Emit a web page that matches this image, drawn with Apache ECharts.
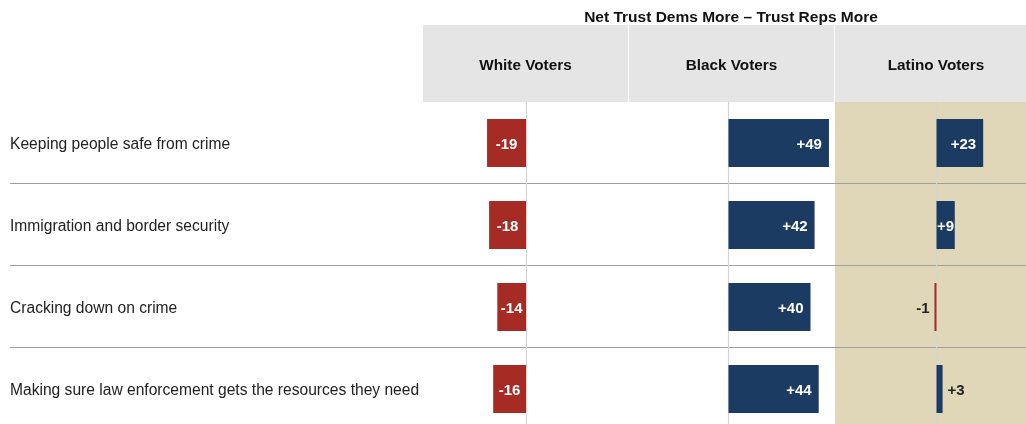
<!DOCTYPE html>
<html><head><meta charset="utf-8">
<script src="https://cdn.jsdelivr.net/npm/echarts@6/dist/echarts.min.js"></script>
<style>html,body{margin:0;padding:0;background:#fff}#c{width:1026px;height:424px}</style>
</head><body><div id="c"></div>
<script>
const categories = [
  'Keeping people safe from crime',
  'Immigration and border security',
  'Cracking down on crime',
  'Making sure law enforcement gets the resources they need'
];
const groups = ['White Voters', 'Black Voters', 'Latino Voters'];
const whiteValues = [-19, -18, -14, -16];
const blackValues = [49, 42, 40, 44];
const latinoValues = [23, 9, -1, 3];
const chartTitle = 'Net Trust Dems More \u2013 Trust Reps More';

const RED = '#a62b24', NAVY = '#1b3b63', BEIGE = '#e0d7b9', HEAD = '#e5e5e5';
const FONT = 'Liberation Sans, Arial, sans-serif';

function labelFor(v) {
  const base = { show: true, fontFamily: FONT, fontSize: 15, fontWeight: 'bold',
    formatter: (v > 0 ? '+' : '') + v, offset: [0, 2] };
  if (v >= 20) return Object.assign(base, { position: 'insideRight', distance: 7, color: '#fff' });
  if (Math.abs(v) >= 5) return Object.assign(base, { position: 'inside', color: '#fff' });
  return Object.assign(base, { position: v < 0 ? 'left' : 'right', distance: 5, color: '#222' });
}
function seriesData(vals) {
  return vals.map(v => ({ value: v, itemStyle: { color: v < 0 ? RED : NAVY }, label: labelFor(v) }));
}

const panels = [
  { left: 423.5, width: 205, vals: whiteValues, bg: 'transparent', head: [423, 205] },
  { left: 626, width: 205, vals: blackValues, bg: 'transparent', head: [629, 205] },
  { left: 835, width: 203, vals: latinoValues, bg: BEIGE, head: [835, 205] }
];

const grid = [{ left: 10, right: 0, top: 101, height: 328, show: false, outerBoundsMode: 'none', containLabel: false }];
const xAxis = [{ gridIndex: 0, type: 'value', show: false, min: 0, max: 1 }];
const yAxis = [{
  gridIndex: 0, type: 'category', data: categories, inverse: true, z: 3,
  axisLine: { show: false }, axisTick: { show: false },
  axisLabel: { inside: true, margin: 0, color: '#222', fontSize: 15.6, fontFamily: FONT,
    formatter: v => '{a|' + v + '}',
    rich: { a: { color: '#222', fontSize: 15.6, fontFamily: FONT, padding: [6, 0, 0, 0] } } },
  splitLine: { show: true, lineStyle: { color: ['rgba(0,0,0,0)', '#a0a0a0', '#a0a0a0', '#a0a0a0', '#a0a0a0'], width: 1.2 } }
}];
const series = [];
const graphic = [{
  type: 'text', x: 731, y: 18, z: 2,
  style: { text: chartTitle, fontFamily: FONT, fontSize: 15.5, fontWeight: 'bold', fill: '#111',
    align: 'center', verticalAlign: 'middle' }
}];

panels.forEach((p, i) => {
  const gi = i + 1;
  grid.push({ left: p.left, width: p.width, top: 102, height: 328, show: true,
    backgroundColor: p.bg, borderWidth: 0, outerBoundsMode: 'none', containLabel: false });
  xAxis.push({ gridIndex: gi, type: 'value', min: -50, max: 50, show: false });
  yAxis.push({ gridIndex: gi, type: 'category', data: categories, inverse: true, z: 4,
    axisLine: { show: true, onZero: true, lineStyle: { color: '#d4d4d4', width: 1.2 } },
    axisTick: { show: false }, axisLabel: { show: false }, splitLine: { show: false } });
  series.push({ type: 'bar', xAxisIndex: gi, yAxisIndex: gi, barWidth: 48, z: 5,
    data: seriesData(p.vals) });
  graphic.push({ type: 'rect', shape: { x: p.head[0], y: 25, width: p.head[1], height: 77 },
    style: { fill: HEAD }, z: 1 });
  graphic.push({ type: 'text', x: p.head[0] + (i === 2 ? 101 : p.head[1] / 2), y: 65.5, z: 2,
    style: { text: groups[i], fontFamily: FONT, fontSize: 15.3, fontWeight: 'bold', fill: '#111',
      align: 'center', verticalAlign: 'middle' } });
});

const chart = echarts.init(document.getElementById('c'), null, { renderer: 'canvas' });
chart.setOption({ animation: false, backgroundColor: '#fff', grid, xAxis, yAxis, series, graphic });
</script></body></html>
